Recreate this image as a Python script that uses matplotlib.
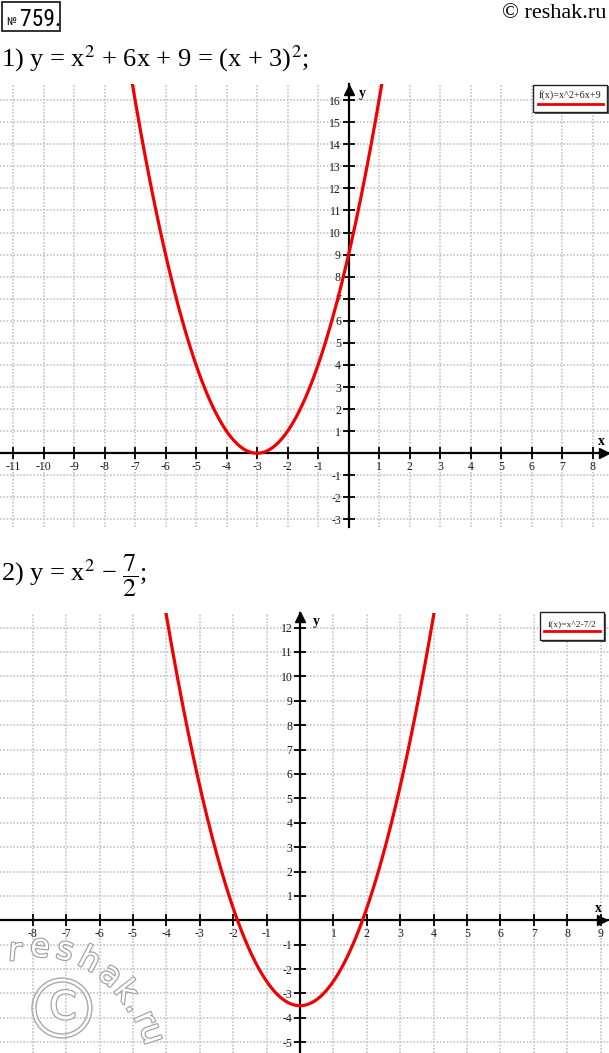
import numpy as np
import matplotlib
matplotlib.use("Agg")
import matplotlib.pyplot as plt
from matplotlib import patheffects as pe
from matplotlib import font_manager as fm
from matplotlib.patches import Rectangle, Circle
from matplotlib.lines import Line2D
from matplotlib.transforms import IdentityTransform

# ---------------- data ----------------
g1_coef = [1, 6, 9]            # y = x^2 + 6x + 9
g1_xticks = [-11, -10, -9, -8, -7, -6, -5, -4, -3, -2, -1, 1, 2, 3, 4, 5, 6, 7, 8]
g1_yticks = [-3, -2, -1, 1, 2, 3, 4, 5, 6, 7, 8, 9, 10, 11, 12, 13, 14, 15, 16]
g1_legend = "f(x)=x^2+6x+9"
g1_title = r"1) y = x$^{2}$ + 6x + 9 = (x + 3)$^{2}$;"

g2_coef = [1, 0, -3.5]         # y = x^2 - 7/2
g2_xticks = [-8, -7, -6, -5, -4, -3, -2, -1, 1, 2, 3, 4, 5, 6, 7, 8, 9]
g2_yticks = [-5, -4, -3, -2, -1, 1, 2, 3, 4, 5, 6, 7, 8, 9, 10, 11, 12]
g2_legend = "f(x)=x^2-7/2"
g2_title = r"2) y = x$^{2}$ − $\dfrac{7}{2}$;"

header_num = "759."
header_site = "© reshak.ru"
watermark = "reshak.ru"

# ---------------- style ----------------
W, H = 609, 1053
plt.rcParams['font.family'] = ['Liberation Serif', 'DejaVu Serif']
plt.rcParams['mathtext.fontset'] = 'stix'

names = {f.name for f in fm.fontManager.ttflist}
narrow = None
for cand in ['Liberation Sans Narrow', 'DejaVu Sans Condensed', 'Roboto Condensed',
             'Open Sans Condensed', 'Noto Sans Condensed']:
    if cand in names:
        narrow = cand
        break

fig = plt.figure(figsize=(W / 100, H / 100), dpi=100)
fig.patch.set_facecolor('white')


def fx(x):
    return x / W


def fy(y):
    return 1 - y / H


def box(x0, y0, x1, y1):
    return [x0 / W, 1 - y1 / H, (x1 - x0) / W, (y1 - y0) / H]


RED = '#f00000'
GRID = '#c3c3c3'


def make_plot(rect, xlim, ylim, coef, xticks, yticks, xarrow, yarrow):
    ax = fig.add_axes(rect)
    ax.set_xlim(xlim)
    ax.set_ylim(ylim)
    ax.set_xticks(xticks)
    ax.set_yticks(yticks)
    ax.set_xticklabels([str(v) for v in xticks])
    ax.set_yticklabels([str(v) for v in yticks])
    ax.grid(True, color=GRID, lw=1.2, ls=(0, (1, 1)))
    ax.set_axisbelow(True)
    for s in ['top', 'right']:
        ax.spines[s].set_visible(False)
    for s in ['left', 'bottom']:
        ax.spines[s].set_position(('data', 0))
        ax.spines[s].set_linewidth(1.6)
        ax.spines[s].set_zorder(2.5)
    ax.tick_params(direction='inout', length=8, width=1.3, labelsize=8.5,
                   pad=1.5, labelcolor='#1a1a1a')
    for lab in ax.get_xticklabels() + ax.get_yticklabels():
        lab.set_fontfamily(['Liberation Serif', 'DejaVu Serif'])
    xs = np.linspace(xlim[0], xlim[1], 2000)
    ax.plot(xs, np.polyval(coef, xs), color=RED, lw=2.3, zorder=3,
            solid_capstyle='round')
    ax.plot([xarrow], [0], marker='>', ms=7, color='k',
            transform=ax.get_yaxis_transform(), clip_on=False, zorder=4)
    ax.plot([0], [yarrow], marker='^', ms=7, color='k',
            transform=ax.get_xaxis_transform(), clip_on=False, zorder=4)
    ax.patch.set_alpha(0)
    return ax


ax1 = make_plot(box(0, 84, 609, 527), (-11.43, 8.54), (-3.34, 16.73),
                g1_coef, g1_xticks, g1_yticks, 0.992, 0.987)
ax2 = make_plot(box(0, 612.7, 609, 1053), (-8.98, 9.25), (-5.44, 12.61),
                g2_coef, g2_xticks, g2_yticks, 0.989, 0.990)

# axis names
fig.text(fx(362), fy(94), 'y', fontsize=10, fontweight='bold', ha='center', va='center')
fig.text(fx(601), fy(441), 'x', fontsize=10, fontweight='bold', ha='center', va='center')
fig.text(fx(316), fy(622), 'y', fontsize=10, fontweight='bold', ha='center', va='center')
fig.text(fx(598), fy(908), 'x', fontsize=10, fontweight='bold', ha='center', va='center')


def legend_box(x0, y0, x1, y1, text, ty, uy, ux0, ux1, fs):
    fig.add_artist(Rectangle((fx(x0) + 1.5 / W, fy(y1) - 1.5 / H), (x1 - x0) / W, (y1 - y0) / H,
                             transform=fig.transFigure, facecolor='#555555',
                             edgecolor='none', zorder=5))
    fig.add_artist(Rectangle((fx(x0), fy(y1)), (x1 - x0) / W, (y1 - y0) / H,
                             transform=fig.transFigure, facecolor='white',
                             edgecolor='#222222', lw=1.0, zorder=6))
    fig.text(fx((x0 + x1) / 2), fy(ty), text, fontsize=fs, ha='center', va='center',
             color='#222222', zorder=7)
    fig.add_artist(Line2D([fx(ux0), fx(ux1)], [fy(uy), fy(uy)], color=RED, lw=2.0,
                          transform=fig.transFigure, zorder=7))


legend_box(533, 85, 607, 112, g1_legend, 95, 103.5, 538, 603, 7.3)
legend_box(540, 612, 604, 640, g2_legend, 624, 631, 544, 600, 6.8)

# titles
fig.text(fx(1), fy(66), g1_title, fontsize=19, ha='left', va='baseline')
fig.text(fx(1), fy(576), g2_title, fontsize=19, ha='left', va='center')

# header
fig.add_artist(Rectangle((fx(2), fy(31)), 58 / W, 29 / H, transform=fig.transFigure,
                         facecolor='none', edgecolor='#222222', lw=1.3))
hfam = [narrow, 'DejaVu Sans'] if narrow else ['DejaVu Sans']
fig.text(fx(6), fy(25), '№', fontsize=8, ha='left', va='baseline', family=hfam)
fig.text(fx(20), fy(26), header_num, fontsize=17 if narrow else 13, ha='left',
         va='baseline', family=hfam)
fig.text(fx(606), fy(18.5), header_site, fontsize=16, ha='right', va='baseline')

# watermark
wm_pos = [(15, 952, -5), (40, 948, -6), (65, 951, -14), (89, 961, -28), (110, 976, -40),
          (125, 992, -52), (135, 1006, -60), (144, 1019, -66), (151, 1034, -72)]
for ch, (px, py, rot) in zip(watermark, wm_pos):
    fig.text(fx(px), fy(py), ch, fontsize=23, family='DejaVu Sans', color='white',
             rotation=rot, ha='center', va='center', zorder=8,
             path_effects=[pe.withStroke(linewidth=1.6, foreground='#9c9c9c')])
for r in (30, 26):
    fig.add_artist(Circle((62, H - 1008), r, transform=IdentityTransform(),
                          facecolor='none', edgecolor='#a8a8a8', lw=1.0, zorder=8))
fig.text(fx(63), fy(1008), 'C', fontsize=28, family='DejaVu Sans', color='white',
         ha='center', va='center', zorder=8,
         path_effects=[pe.withStroke(linewidth=1.6, foreground='#9c9c9c')])

fig.savefig('out.png', dpi=100, facecolor='white')
